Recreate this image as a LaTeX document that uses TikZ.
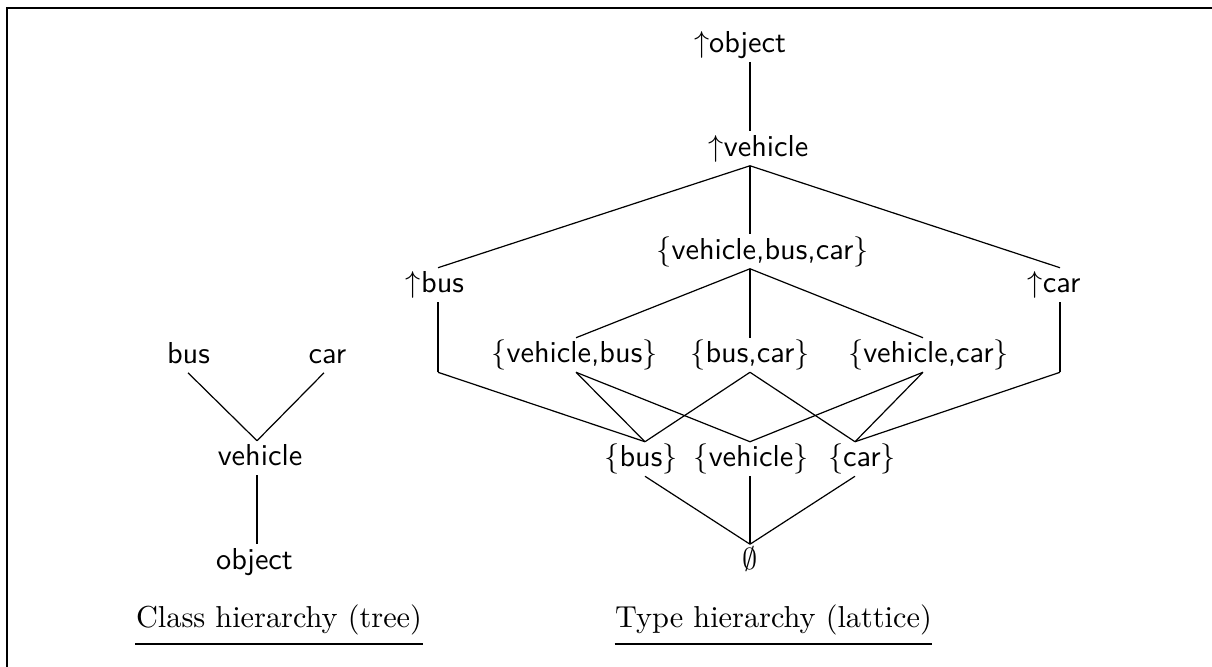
\documentclass[tikz,border=0pt]{standalone}
\begin{document}
\begin{tikzpicture}[x=0.33pt,y=-0.33pt,
  lbl/.style={font=\sffamily, inner xsep=0pt, inner ysep=0.5pt, text height=7.5pt, text depth=2.5pt, anchor=center},
  vline/.style={line width=0.7pt},
  dline/.style={line width=0.4pt},
  caption/.style={font=\rmfamily, inner sep=0pt, anchor=base},
  frameline/.style={line width=0.85pt}]
\useasboundingbox (0,0) rectangle (1212,667);
% frame
\coordinate (fl) at (7,667);
\coordinate (fc) at (7,8);
\coordinate (fr) at (1212,8);
\draw[frameline] (fl) -- (fc) -- (fr);
% connection axes
\coordinate (ax) at (750,0);
\coordinate (axub) at (438,0);
\coordinate (axuc) at (1060,0);
\coordinate (axvb) at (576,0);
\coordinate (axvc) at (923,0);
\coordinate (axb) at (645,0);
\coordinate (axc) at (855,0);
\coordinate (axtb) at (188,0);
\coordinate (axtc) at (324,0);
\coordinate (axtv) at (257,0);
% tree
\node[lbl] (tbus) at (188.5,355.5) {bus};
\node[lbl] (tcar) at (327.5,355.5) {car};
\node[lbl] (tveh) at (260,458) {vehicle};
\node[lbl] (tobj) at (254.5,561.5) {object};
\draw[dline] (tbus.south -| axtb) -- (tveh.north -| axtv);
\draw[dline] (tcar.south -| axtc) -- (tveh.north -| axtv);
\draw[vline] (tveh.south -| axtv) -- (tobj.north -| axtv);
% lattice
\node[lbl] (uobj) at (740,44.5) {$\uparrow$object};
\node[lbl] (uveh) at (758.5,148.5) {$\uparrow$vehicle};
\node[lbl] (vbc) at (762.5,251.5) {$\{$vehicle,bus,car$\}$};
\node[lbl] (ub) at (435,285) {$\uparrow$bus};
\node[lbl] (uc) at (1054,285) {$\uparrow$car};
\node[lbl] (vb) at (574.5,355) {$\{$vehicle,bus$\}$};
\node[lbl] (bc) at (750,355) {$\{$bus,car$\}$};
\node[lbl] (vc) at (928.5,355) {$\{$vehicle,car$\}$};
\node[lbl] (sb) at (641,459) {$\{$bus$\}$};
\node[lbl] (sv) at (751,459) {$\{$vehicle$\}$};
\node[lbl] (sc) at (862,459) {$\{$car$\}$};
\node[lbl] (em) at (750,561.5) {$\emptyset$};
\draw[vline] (uobj.south -| ax) -- (uveh.north -| ax);
\draw[dline] (uveh.south -| ax) -- (ub.north -| axub);
\draw[dline] (uveh.south -| ax) -- (uc.north -| axuc);
\draw[vline] (uveh.south -| ax) -- (vbc.north -| ax);
\draw[dline] (vbc.south -| ax) -- (vb.north -| axvb);
\draw[vline] (vbc.south -| ax) -- (bc.north -| ax);
\draw[dline] (vbc.south -| ax) -- (vc.north -| axvc);
\draw[vline] (ub.south -| axub) -- (vb.south -| axub);
\draw[dline] (vb.south -| axub) -- (sb.north -| axb);
\draw[vline] (uc.south -| axuc) -- (vc.south -| axuc);
\draw[dline] (vc.south -| axuc) -- (sc.north -| axc);
\draw[dline] (vb.south -| axvb) -- (sb.north -| axb);
\draw[dline] (vb.south -| axvb) -- (sv.north -| ax);
\draw[dline] (bc.south -| ax) -- (sb.north -| axb);
\draw[dline] (bc.south -| ax) -- (sc.north -| axc);
\draw[dline] (vc.south -| axvc) -- (sv.north -| ax);
\draw[dline] (vc.south -| axvc) -- (sc.north -| axc);
\draw[dline] (sb.south -| axb) -- (em.north -| ax);
\draw[vline] (sv.south -| ax) -- (em.north -| ax);
\draw[dline] (sc.south -| axc) -- (em.north -| ax);
% captions
\node[caption] (capl) at (279,627) {Class hierarchy (tree)};
\node[caption] (capr) at (773.5,627) {Type hierarchy (lattice)};
\draw[vline] ([yshift=-5.6pt]capl.base west) -- ([yshift=-5.6pt]capl.base east);
\draw[vline] ([yshift=-5.6pt]capr.base west) -- ([yshift=-5.6pt]capr.base east);
\end{tikzpicture}
\end{document}
